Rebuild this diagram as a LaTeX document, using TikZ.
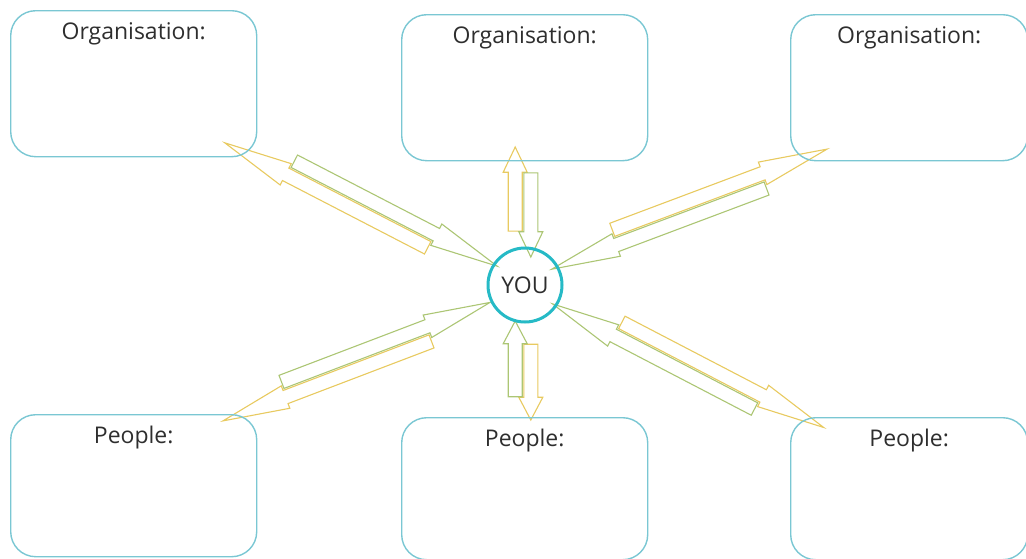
\documentclass[tikz,border=0pt]{standalone}
\usepackage{fontspec}
\setmainfont{Open Sans}
\usetikzlibrary{calc}

\definecolor{cardblue}{RGB}{122,199,211}
\definecolor{youteal}{RGB}{38,186,198}
\definecolor{outgold}{RGB}{232,202,96}
\definecolor{ingreen}{RGB}{172,198,116}

\tikzset{
    card/.style={draw=cardblue, line width=1.4pt, rounded corners=25pt, anchor=north west,
        minimum width=246pt, inner xsep=0pt, inner ysep=12pt, text height=17pt, text depth=105pt,
        font=\fontsize{23}{28}\selectfont, text=black!82},
    blockarrow/.style={fill=white, line width=1.1pt, to path={
        let \p1=($(\tikztotarget)-(\tikztostart)$),
            \n1={atan2(\y1,\x1)}, \n2={veclen(\x1,\y1)} in
        {[shift={(\tikztostart)}, rotate=\n1]
        (0pt,0.8pt) -- ({0.7*\n2},0.8pt) -- ({0.7*\n2},-4.2pt) -- (\n2,7.8pt)
        -- ({0.7*\n2},19.8pt) -- ({0.7*\n2},14.8pt) -- (0pt,14.8pt) -- cycle}
    }},
    outarrow/.style={blockarrow, draw=outgold},
    inarrow/.style={blockarrow, draw=ingreen}
}

\begin{document}
\begin{tikzpicture}[x=1pt, y=-1pt]
    \useasboundingbox (0,0) rectangle (1026,558);

    % ends of each double arrow: c at YOU, b at a card
    \coordinate (c1) at (493.6,273.1); \coordinate (b1) at (228.4,135.9);
    \coordinate (c2) at (523,257);     \coordinate (b2) at (523,147);
    \coordinate (c3) at (549,261.9);   \coordinate (b3) at (829.8,156.4);
    \coordinate (c4) at (492.8,309.7); \coordinate (b4) at (220.2,413.6);
    \coordinate (c5) at (523,321);     \coordinate (b5) at (523,420);
    \coordinate (c6) at (556.2,297);   \coordinate (b6) at (820.1,434.4);

    \foreach \i in {1,...,6}
    {
        \draw[outarrow] ($(c\i)!0.235!(b\i)$) to (b\i);
    }
    \foreach \i in {1,...,6}
    {
        \draw[inarrow] ($(b\i)!0.235!(c\i)$) to (c\i);
    }

    \node[card] (org1) at (10,10) {Organisation:};
    \node[card] (org2) at (401,14) {Organisation:};
    \node[card, minimum width=237pt] (org3) at (790,14) {Organisation:};
    \node[card, text depth=101pt] (ppl1) at (10,414) {People:};
    \node[card, text depth=101pt] (ppl2) at (401,417) {People:};
    \node[card, text depth=101pt, minimum width=237pt] (ppl3) at (790,417) {People:};

    \node[draw=youteal, circle, line width=3pt, minimum size=74pt, inner sep=0pt,
        font=\fontsize{23}{28}\selectfont, text=black!82] (you) at (525,285) {YOU};

\end{tikzpicture}
\end{document}
